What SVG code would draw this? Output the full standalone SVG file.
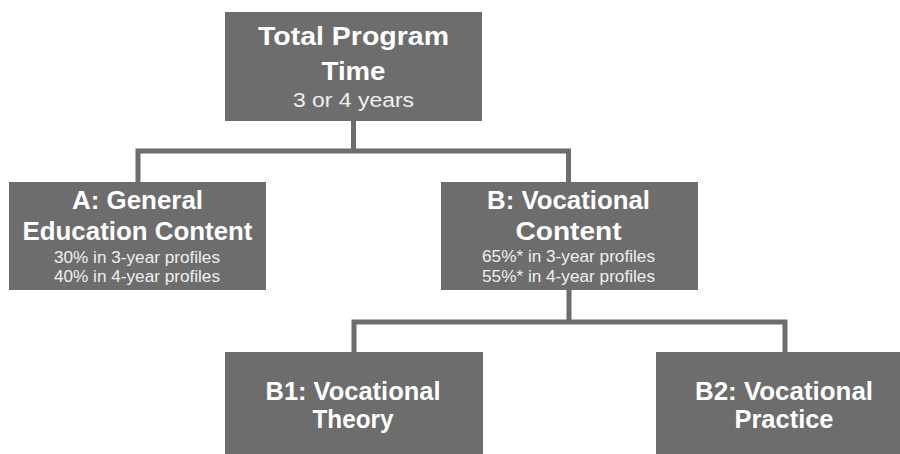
<svg xmlns="http://www.w3.org/2000/svg" width="900" height="454" viewBox="0 0 900 454">
<style>
.box{fill:#6d6d6d;}
.h{font-family:"Liberation Sans",Arial,sans-serif;font-weight:bold;font-size:25px;fill:#ffffff;text-anchor:middle;}
.s{font-family:"Liberation Sans",Arial,sans-serif;font-size:16px;fill:#f0f0f0;text-anchor:middle;}
.m{font-family:"Liberation Sans",Arial,sans-serif;font-size:20px;fill:#f0f0f0;text-anchor:middle;}
.c{fill:none;stroke:#6d6d6d;stroke-width:5;stroke-linejoin:miter;}
</style>
<rect width="900" height="454" fill="#ffffff"/>
<g id="connectors">
<path class="c" d="M353.5,121 V151 M138,182 V151 H568.5 V182"/>
<path class="c" d="M569,290 V322 M354,352 V322 H785 V352"/>
</g>
<g id="total">
<rect class="box" x="225" y="12" width="257" height="109"/>
<text class="h" x="353.5" y="45" textLength="191" lengthAdjust="spacingAndGlyphs">Total Program</text>
<text class="h" x="353.5" y="80" textLength="64" lengthAdjust="spacingAndGlyphs">Time</text>
<text class="m" x="353.5" y="107" textLength="121" lengthAdjust="spacingAndGlyphs">3 or 4 years</text>
</g>
<g id="nodeA">
<rect class="box" x="9" y="182" width="257" height="108"/>
<text class="h" x="137.5" y="209" textLength="131" lengthAdjust="spacingAndGlyphs">A: General</text>
<text class="h" x="137.5" y="240" textLength="230" lengthAdjust="spacingAndGlyphs">Education Content</text>
<text class="s" x="137" y="262.5" textLength="166" lengthAdjust="spacingAndGlyphs">30% in 3-year profiles</text>
<text class="s" x="137" y="281.5" textLength="166" lengthAdjust="spacingAndGlyphs">40% in 4-year profiles</text>
</g>
<g id="nodeB">
<rect class="box" x="441" y="182" width="257" height="108"/>
<text class="h" x="568.5" y="209" textLength="163" lengthAdjust="spacingAndGlyphs">B: Vocational</text>
<text class="h" x="568.5" y="240" textLength="106" lengthAdjust="spacingAndGlyphs">Content</text>
<text class="s" x="568.5" y="261.5" textLength="173" lengthAdjust="spacingAndGlyphs">65%* in 3-year profiles</text>
<text class="s" x="568.5" y="281.5" textLength="173" lengthAdjust="spacingAndGlyphs">55%* in 4-year profiles</text>
</g>
<g id="nodeB1">
<rect class="box" x="225" y="352" width="258" height="110"/>
<text class="h" x="353" y="400" textLength="175" lengthAdjust="spacingAndGlyphs">B1: Vocational</text>
<text class="h" x="353" y="428" textLength="81" lengthAdjust="spacingAndGlyphs">Theory</text>
</g>
<g id="nodeB2">
<rect class="box" x="656" y="352" width="258" height="110"/>
<text class="h" x="784" y="400" textLength="178" lengthAdjust="spacingAndGlyphs">B2: Vocational</text>
<text class="h" x="784" y="428" textLength="99" lengthAdjust="spacingAndGlyphs">Practice</text>
</g>
</svg>
